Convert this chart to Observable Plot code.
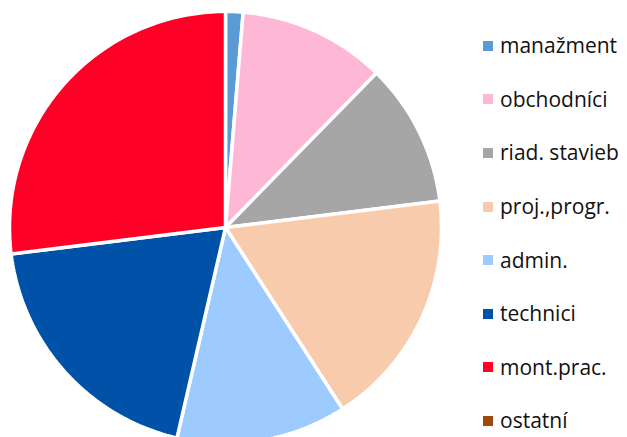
<!DOCTYPE html>
<html>
<head>
<meta charset="utf-8">
<script src="https://cdn.jsdelivr.net/npm/d3@7"></script>
<script src="https://cdn.jsdelivr.net/npm/@observablehq/plot@0.6"></script>
<style>
  body { margin: 0; background: #fff; }
  #wrap { position: relative; width: 627px; height: 437px; overflow: hidden; }
  #chart { position: absolute; left: 0; top: 0; }
  #legend { position: absolute; left: 483px; top: 19px; font-family: "Open Sans", sans-serif; font-size: 21px; color: #111; }
  .row { display: flex; align-items: center; height: 53.6px; }
  .row span { line-height: 1; }
  .sw { width: 10px; height: 10px; margin-right: 7px; flex: none; }
</style>
</head>
<body>
<div id="wrap"><div id="chart"></div><div id="legend"></div></div>
<script>
const categories = ["manažment", "obchodníci", "riad. stavieb", "proj.,progr.", "admin.", "technici", "mont.prac.", "ostatní"];
const values = [1.3, 11.0, 10.7, 17.8, 12.7, 19.4, 26.9, 0];
const colors = ["#5B9BD5", "#FFB7D6", "#A6A6A6", "#F8CBAD", "#9DCBFF", "#0052A8", "#FF0026", "#9E480E"];

const arcs = d3.pie().sort(null).value(d => d.value)(categories.map((c, i) => ({cat: c, value: values[i]})));
const pts = [];
for (const a of arcs) {
  if (a.endAngle - a.startAngle <= 0) continue;
  pts.push({cat: a.data.cat, x: 0, y: 0});
  const n = Math.max(2, Math.ceil((a.endAngle - a.startAngle) * 60));
  for (let k = 0; k <= n; k++) {
    const t = a.startAngle + (a.endAngle - a.startAngle) * k / n;
    pts.push({cat: a.data.cat, x: Math.sin(t), y: Math.cos(t)});
  }
}
const R = 216;
const cx = 225, cy = 227;
const plot = Plot.plot({
  width: 470, height: 437,
  x: {domain: [-1, 1], range: [cx - R, cx + R], axis: null},
  y: {domain: [-1, 1], range: [cy + R, cy - R], axis: null},
  color: {domain: categories, range: colors},
  marks: [
    Plot.line(pts, {x: "x", y: "y", z: "cat", fill: "cat", stroke: "white", strokeWidth: 3.5, curve: "linear-closed", strokeLinejoin: "miter"})
  ]
});
plot.style.overflow = "visible";
document.getElementById("chart").appendChild(plot);
const lg = d3.select("#legend");
categories.forEach((c, i) => {
  const r = lg.append("div").attr("class", "row");
  r.append("div").attr("class", "sw").style("background", colors[i]);
  r.append("span").text(c);
});
</script>
</body>
</html>
